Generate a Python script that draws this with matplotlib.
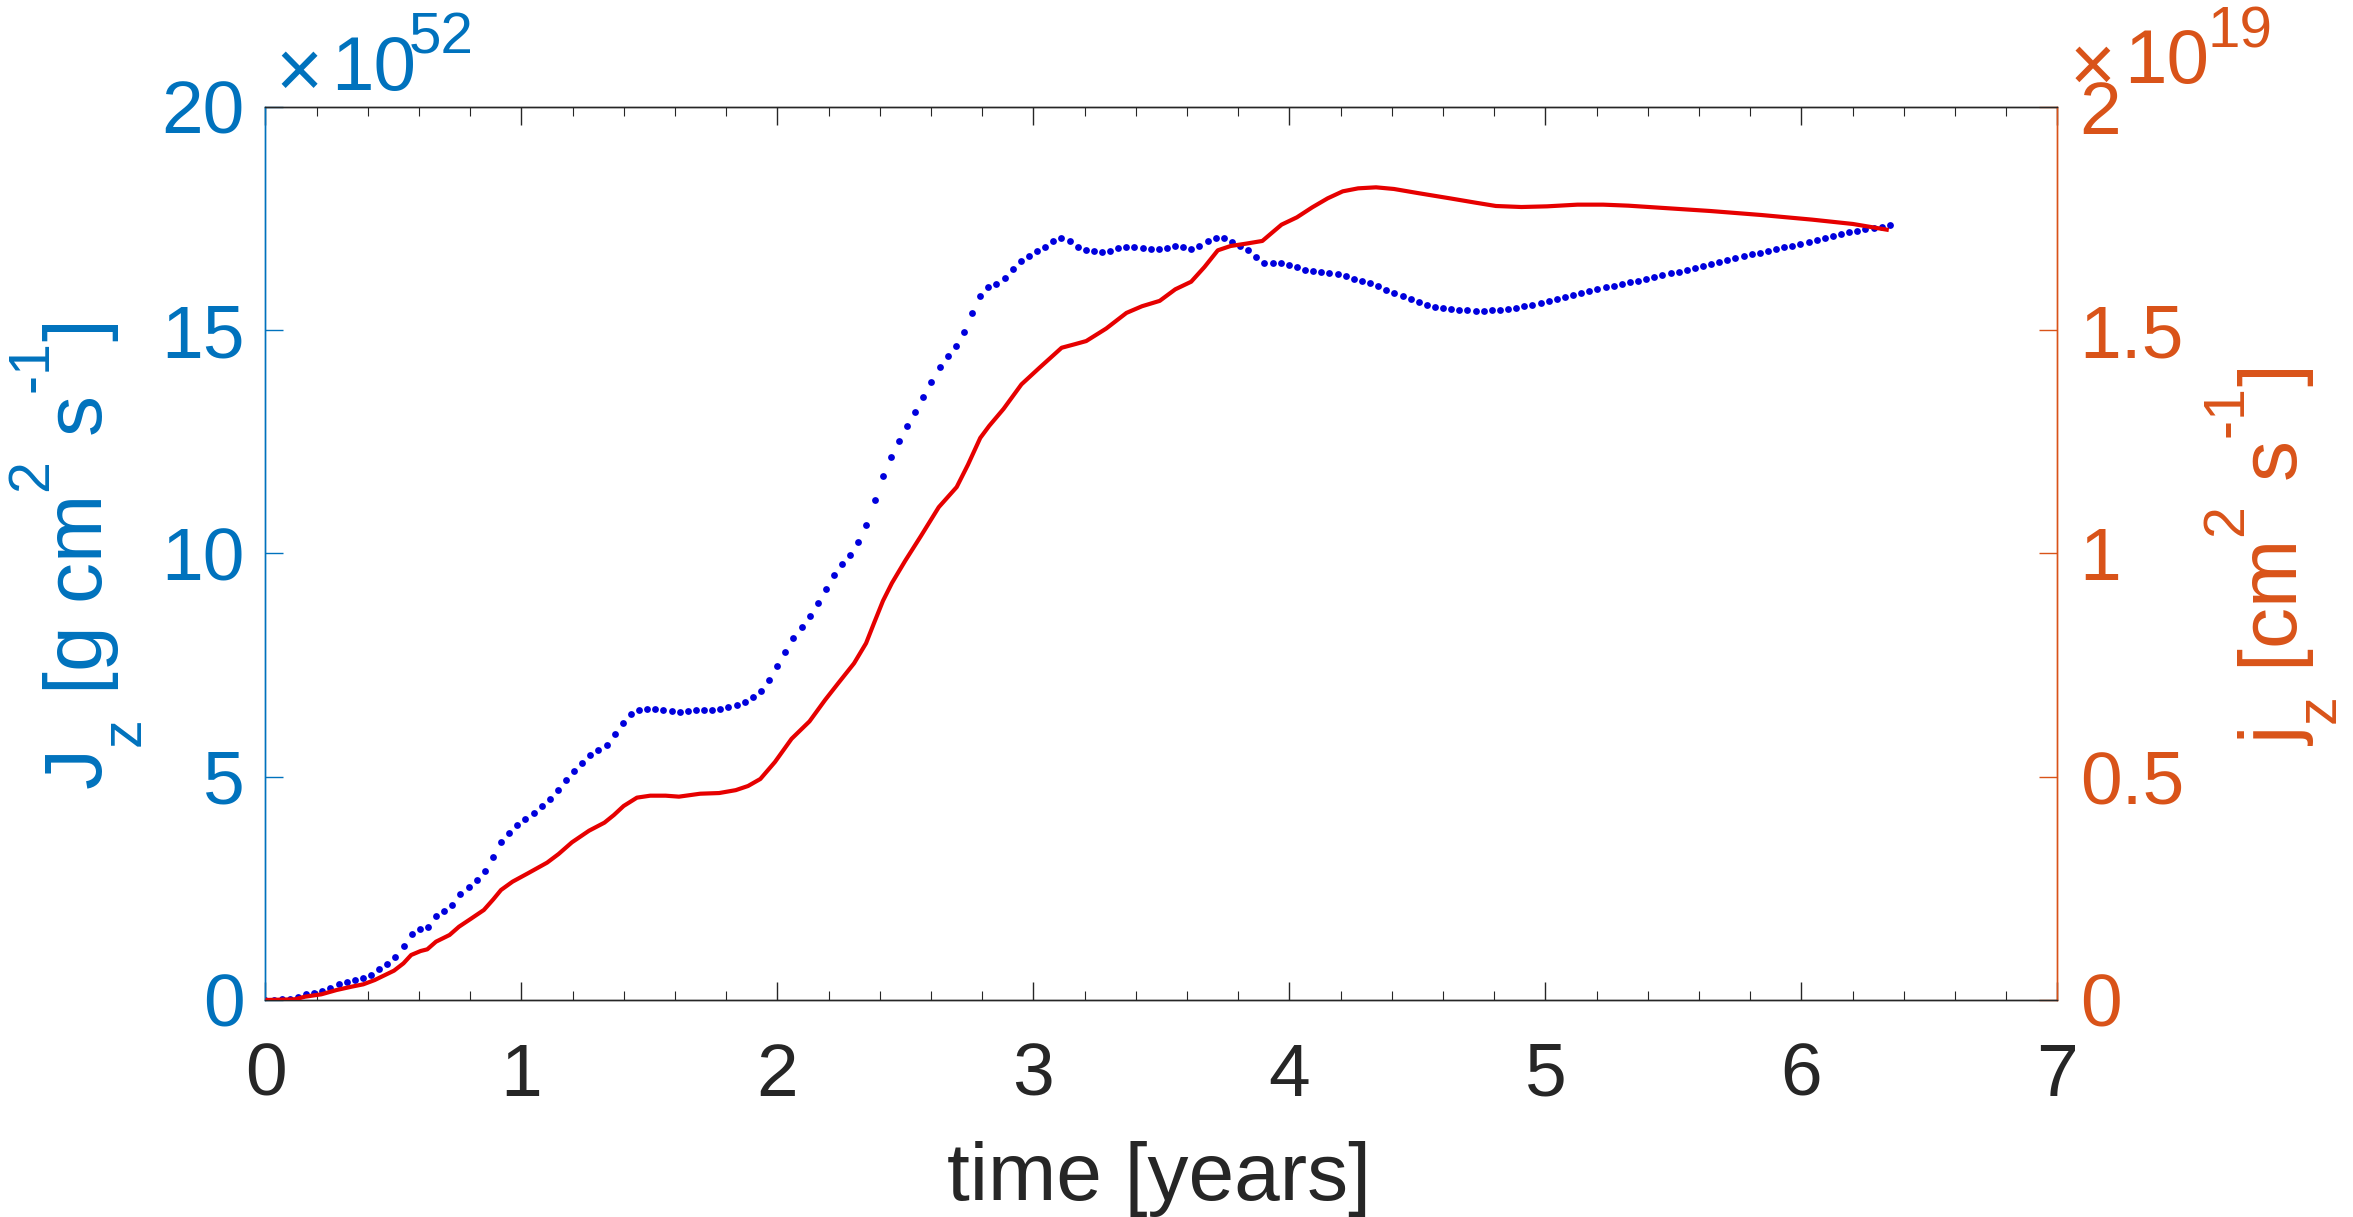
import numpy as np
import matplotlib
matplotlib.use("Agg")
import matplotlib.pyplot as plt
from matplotlib.ticker import MultipleLocator, FixedLocator, FuncFormatter
from matplotlib.textpath import TextPath
from matplotlib.font_manager import FontProperties
from matplotlib.mathtext import MathTextParser

# ---------------- data ----------------
# total angular momentum J_z (units of 1e52 g cm^2 s^-1), sampled uniformly in time
t_start, t_end, n_samples = 0.0, 6.345, 201
J_z = [0.000, 0.000, 0.015, 0.030, 0.060, 0.134, 0.164, 0.194, 0.269, 0.351,
       0.411, 0.448, 0.493, 0.567, 0.687, 0.814, 0.956, 1.209, 1.471, 1.583,
       1.627, 1.874, 1.993, 2.128, 2.381, 2.531, 2.695, 2.889, 3.210, 3.539,
       3.740, 3.912, 4.046, 4.188, 4.345, 4.494, 4.696, 4.920, 5.121, 5.301,
       5.480, 5.592, 5.719, 5.965, 6.211, 6.405, 6.488, 6.510, 6.525, 6.502,
       6.465, 6.450, 6.465, 6.488, 6.502, 6.502, 6.517, 6.555, 6.600, 6.674,
       6.794, 6.921, 7.174, 7.488, 7.786, 8.108, 8.346, 8.593, 8.899, 9.205,
       9.511, 9.772, 9.966, 10.257, 10.629, 11.198, 11.729, 12.168, 12.528, 12.848,
       13.167, 13.508, 13.848, 14.177, 14.417, 14.638, 14.968, 15.378, 15.767, 15.967,
       16.038, 16.168, 16.367, 16.547, 16.667, 16.768, 16.867, 16.988, 17.068, 16.988,
       16.867, 16.788, 16.778, 16.757, 16.768, 16.838, 16.867, 16.867, 16.847, 16.817,
       16.817, 16.847, 16.887, 16.867, 16.817, 16.887, 16.988, 17.077, 17.068, 16.967,
       16.887, 16.788, 16.638, 16.517, 16.497, 16.507, 16.457, 16.407, 16.358, 16.338,
       16.307, 16.287, 16.257, 16.217, 16.157, 16.107, 16.058, 15.987, 15.908, 15.837,
       15.767, 15.692, 15.633, 15.573, 15.528, 15.491, 15.469, 15.454, 15.446, 15.439,
       15.439, 15.446, 15.454, 15.476, 15.506, 15.536, 15.573, 15.610, 15.655, 15.700,
       15.745, 15.789, 15.834, 15.879, 15.924, 15.961, 15.998, 16.036, 16.073, 16.110,
       16.148, 16.193, 16.230, 16.275, 16.312, 16.356, 16.401, 16.446, 16.491, 16.529,
       16.573, 16.618, 16.663, 16.701, 16.737, 16.782, 16.820, 16.858, 16.894, 16.939,
       16.976, 17.021, 17.066, 17.111, 17.149, 17.193, 17.230, 17.275, 17.297, 17.319,
       17.350]

# specific angular momentum j_z (units of 1e19 cm^2 s^-1)
red_t = [0.000, 0.113, 0.155, 0.218, 0.278, 0.337, 0.382, 0.427, 0.502, 0.539,
         0.569, 0.606, 0.632, 0.666, 0.719, 0.756, 0.801, 0.853, 0.890, 0.920,
         0.965, 1.025, 1.100, 1.145, 1.197, 1.264, 1.324, 1.361, 1.399, 1.451,
         1.503, 1.563, 1.615, 1.698, 1.772, 1.837, 1.885, 1.933, 1.990, 2.055,
         2.125, 2.186, 2.238, 2.299, 2.346, 2.377, 2.412, 2.447, 2.499, 2.560,
         2.630, 2.700, 2.744, 2.792, 2.827, 2.883, 2.953, 3.023, 3.110, 3.162,
         3.206, 3.284, 3.363, 3.424, 3.493, 3.554, 3.616, 3.668, 3.720, 3.770,
         3.830, 3.894, 3.929, 3.969, 4.029, 4.089, 4.149, 4.208, 4.268, 4.338,
         4.408, 4.507, 4.627, 4.727, 4.806, 4.906, 5.006, 5.125, 5.225, 5.324,
         5.444, 5.643, 5.843, 6.042, 6.201, 6.341]
j_z = [0.000, 0.0015, 0.0075, 0.0127, 0.0224, 0.0299, 0.0351, 0.0448, 0.0657, 0.0821,
       0.1008, 0.1097, 0.1135, 0.1306, 0.1456, 0.1642, 0.1814, 0.2016, 0.2255, 0.2464,
       0.2650, 0.2837, 0.3076, 0.3270, 0.3531, 0.3792, 0.3972, 0.4143, 0.4345, 0.4532,
       0.4576, 0.4576, 0.4554, 0.4620, 0.4635, 0.4700, 0.4793, 0.4950, 0.5330, 0.5850,
       0.6240, 0.6720, 0.7100, 0.7540, 0.7990, 0.8440, 0.8939, 0.9338, 0.9838, 1.0389,
       1.1038, 1.1488, 1.1988, 1.2588, 1.2858, 1.3238, 1.3788, 1.4158, 1.4608, 1.4688,
       1.4758, 1.5038, 1.5388, 1.5538, 1.5658, 1.5917, 1.6087, 1.6417, 1.6790, 1.6887,
       1.6939, 1.7000, 1.7171, 1.7365, 1.7529, 1.7753, 1.7954, 1.8111, 1.8178, 1.8201,
       1.8164, 1.8067, 1.7954, 1.7857, 1.7783, 1.7760, 1.7775, 1.7813, 1.7813, 1.7790,
       1.7745, 1.7671, 1.7581, 1.7477, 1.7380, 1.7245]

x_ticks = [0, 1, 2, 3, 4, 5, 6, 7]
left_ticks = [0, 5, 10, 15, 20]
right_ticks = [0, 0.5, 1, 1.5, 2]
left_exponent = '52'
right_exponent = '19'

# ---------------- style ----------------
plt.rcParams['font.family'] = ['Liberation Sans', 'DejaVu Sans']
plt.rcParams['mathtext.fontset'] = 'custom'
plt.rcParams['mathtext.rm'] = 'Liberation Sans'
plt.rcParams['mathtext.it'] = 'Liberation Sans'
plt.rcParams['mathtext.bf'] = 'Liberation Sans:bold'
plt.rcParams['mathtext.sf'] = 'Liberation Sans'

# MATLAB-like (higher) super/subscript placement
try:
    from matplotlib import _mathtext as _mt
    _mt.FontConstantsBase.sup1 = 1.2
    _mt.FontConstantsBase.sub1 = 0.95
except Exception:
    pass

BLUE_AX = '#0072BD'
ORANGE_AX = '#D95319'
DARK = '#262626'
TICK_FS = 54
LABEL_FS = 59
W, H = 2353, 1217

fig = plt.figure(figsize=(W / 100, H / 100), dpi=100)
ax = fig.add_axes([0.11283, 0.17831, 0.76158, 0.73377])
ax2 = ax.twinx()

t = np.linspace(t_start, t_end, n_samples)
ax.plot(t, J_z, linestyle='none', marker='o', markersize=4.9,
        markeredgewidth=0, color='#0000DD', zorder=3)
ax2.plot(red_t, j_z, color='#E60000', linewidth=3.0,
         solid_joinstyle='round', solid_capstyle='butt', zorder=3)

ax.set_xlim(0, 7)
ax.set_ylim(0, 20)
ax2.set_ylim(0, 2)

ax.xaxis.set_major_locator(FixedLocator(x_ticks))
ax.xaxis.set_minor_locator(MultipleLocator(0.2))
ax.yaxis.set_major_locator(FixedLocator(left_ticks))
ax2.yaxis.set_major_locator(FixedLocator(right_ticks))
fmt = FuncFormatter(lambda v, p: '%g' % v)
ax.xaxis.set_major_formatter(fmt)
ax.yaxis.set_major_formatter(fmt)
ax2.yaxis.set_major_formatter(fmt)

ax.tick_params(axis='x', which='both', direction='in', top=True, bottom=True,
               labelsize=TICK_FS, labelcolor=DARK, color=DARK, pad=30)
ax.tick_params(axis='x', which='major', length=13, width=1.0)
ax.tick_params(axis='x', which='minor', length=6.5, width=0.8)
ax.tick_params(axis='y', which='both', direction='in', left=True, right=False,
               length=13, width=1.0, labelsize=TICK_FS, colors=BLUE_AX, pad=15)
ax2.tick_params(axis='y', which='both', direction='in', right=True, left=False,
                length=13, width=1.0, labelsize=TICK_FS, colors=ORANGE_AX, pad=16)

for a in (ax, ax2):
    a.spines['top'].set_color(DARK)
    a.spines['bottom'].set_color(DARK)
    a.spines['left'].set_color(BLUE_AX)
    a.spines['right'].set_color(ORANGE_AX)
    for s in a.spines.values():
        s.set_linewidth(1.0)

# ---------------- labels ----------------
def safe_label(s_good, s_fallback):
    try:
        MathTextParser('path').parse(s_good, prop=FontProperties(family='Liberation Sans'))
        return s_good
    except Exception:
        return s_fallback

left_label = safe_label(r'J$_z$ [g cm$^2$ s$^{\text{-}1}$]', r'J$_z$ [g cm$^2$ s$^{-1}$]')
right_label = safe_label(r'j$_z$ [cm$^2$ s$^{\text{-}1}$]', r'j$_z$ [cm$^2$ s$^{-1}$]')

fig.text(0.4925, 1 - 1200 / H, 'time [years]', fontsize=LABEL_FS, color=DARK,
         ha='center', va='baseline')
fig.text(77 / W, 1 - 556 / H, left_label, fontsize=LABEL_FS,
         color=BLUE_AX, rotation=90, ha='center', va='center')
fig.text(2272 / W, 1 - 557 / H, right_label, fontsize=LABEL_FS,
         color=ORANGE_AX, rotation=90, ha='center', va='center')

# ---------------- exponent multipliers (x10^n) ----------------
fp = FontProperties(family='Liberation Sans')
ext = TextPath((0, 0), '\u00d7', size=1, prop=fp).get_extents()
cross_w_em = ext.x1 - ext.x0
cross_y0_em = ext.y0


def put(txt, left_px, base_px, size_pt, color):
    fig.text(left_px / W, 1 - base_px / H, txt, fontsize=size_pt, color=color,
             ha='left', va='baseline')


def multiplier(exp, cross_left, cross_bottom, cross_w, ten_left, ten_base,
               exp_left, exp_base, color):
    cross_pt = cross_w / cross_w_em * 72 / 100
    cross_base = cross_bottom + cross_y0_em * cross_pt * 100 / 72
    put('\u00d7', cross_left, cross_base, cross_pt, color)
    put('10', ten_left, ten_base, 55, color)
    put(exp, exp_left, exp_base, 42, color)


multiplier(left_exponent, 275, 88, 36, 331, 90, 409, 53, BLUE_AX)
multiplier(right_exponent, 2070, 82, 35, 2124, 83, 2208, 47, ORANGE_AX)

fig.savefig('out.png', dpi=100)
